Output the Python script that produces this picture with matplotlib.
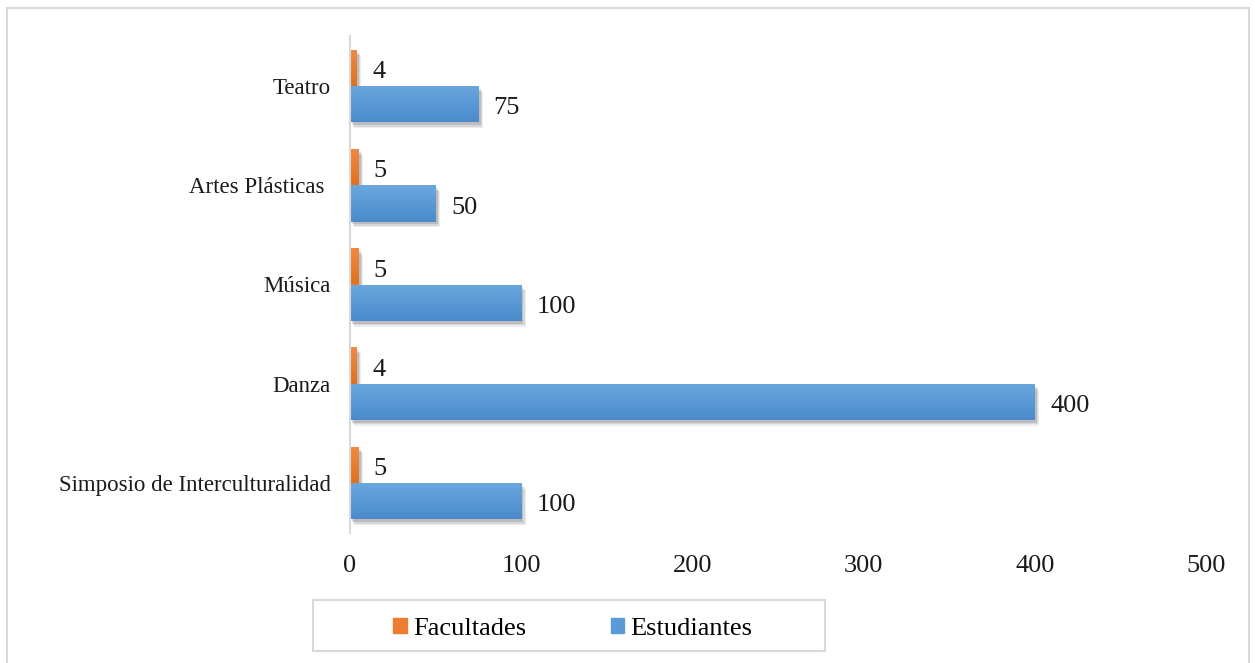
import matplotlib
matplotlib.use("Agg")
import matplotlib.pyplot as plt
import matplotlib.patheffects as pe
from matplotlib.patches import Rectangle
import matplotlib.colors as mcolors
import numpy as np

categories = ["Simposio de Interculturalidad", "Danza", "Música", "Artes Plásticas ", "Teatro"]
facultades = [5, 4, 5, 5, 4]
estudiantes = [100, 400, 100, 50, 75]
xticks = [0, 100, 200, 300, 400, 500]

plt.rcParams['font.family'] = ['Liberation Serif', 'DejaVu Serif']

W, H = 1255, 663
fig = plt.figure(figsize=(W/100, H/100), dpi=100)
fig.patches.append(Rectangle((7/W, -0.01), 1242/W, 1 - 8/H + 0.01,
                             transform=fig.transFigure, fill=False,
                             edgecolor="#d9d9d9", linewidth=1.5))
ax = fig.add_axes([350/W, 1 - 532.6/H, 856/W, 496.2/H])

y = np.arange(len(categories))
h = 0.366
shadow = [pe.SimplePatchShadow(offset=(o, -o*1.3), shadow_rgbFace="#000000", alpha=a)
          for o, a in ((3.2, 0.07), (2.4, 0.09), (1.6, 0.12))] + [pe.Normal()]
b1 = ax.barh(y + h/2, facultades, height=h, color="#ED7D31", label="Facultades", path_effects=shadow)
b2 = ax.barh(y - h/2, estudiantes, height=h, color="#5B9BD5", label="Estudiantes", path_effects=shadow)

def grad(bars, top, bottom):
    cmap = mcolors.LinearSegmentedColormap.from_list("g", [bottom, top])
    g = np.linspace(0, 1, 64).reshape(-1, 1)
    for r in bars:
        x0, y0, w, hh = r.get_x(), r.get_y(), r.get_width(), r.get_height()
        im = ax.imshow(g, cmap=cmap, aspect="auto", origin="lower",
                       extent=(x0, x0 + w, y0, y0 + hh), zorder=r.get_zorder() + 0.1,
                       interpolation="bilinear")
        im.set_clip_path(r)

grad(b1, "#F08A45", "#E0701F")
grad(b2, "#6BA7DE", "#4A8BCD")

for bars, vals in ((b1, facultades), (b2, estudiantes)):
    for r, v in zip(bars, vals):
        ax.annotate(str(v), (r.get_width(), r.get_y() + r.get_height()/2),
                    xytext=(11, -3), textcoords="offset points", va="center", ha="left",
                    fontsize=19, color="#1a1a1a")

ax.set_xlim(0, 500)
ax.set_ylim(-0.5, len(categories) - 0.5)
ax.set_xticks(xticks)
ax.set_xticklabels([str(t) for t in xticks], fontsize=19)
ax.set_yticks(y)
ax.set_yticklabels(categories, fontsize=16.5)
ax.tick_params(axis="both", length=0, colors="#1a1a1a")
ax.tick_params(axis="x", pad=16)
ax.tick_params(axis="y", pad=14)
for s in ("top", "right", "bottom"):
    ax.spines[s].set_visible(False)
ax.spines["left"].set_color("#d9d9d9")
ax.spines["left"].set_linewidth(1.5)

fig.patches.append(Rectangle((313/W, 1 - 651/H), 512/W, 51/H, transform=fig.transFigure,
                             fill=False, edgecolor="#d9d9d9", linewidth=1.5))
h1 = Rectangle((0, 0), 1, 1, color="#ED7D31")
h2 = Rectangle((0, 0), 1, 1, color="#5B9BD5")
leg = fig.legend(handles=[h1, h2], labels=["Facultades", "Estudiantes"], loc="center",
                 bbox_to_anchor=(573/W, 1 - 629/H), ncol=2, fontsize=19,
                 frameon=False, handlelength=0.5, handleheight=0.5,
                 handletextpad=0.25, columnspacing=3.2)

fig.savefig("out.png", dpi=100)
